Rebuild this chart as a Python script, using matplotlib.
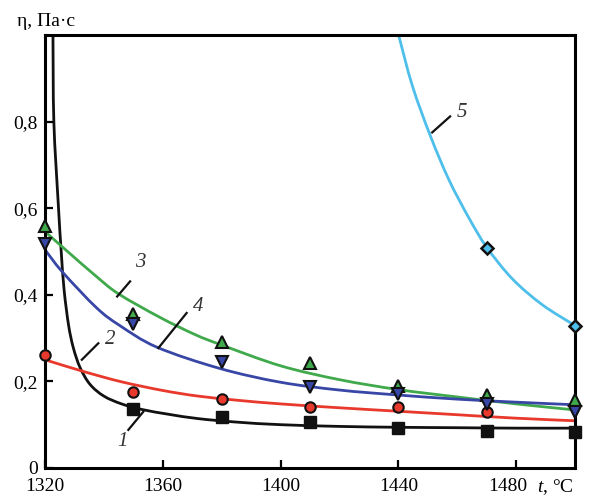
import matplotlib
matplotlib.use("Agg")
import matplotlib.pyplot as plt
import matplotlib.transforms as mtransforms
from matplotlib.path import Path
from matplotlib.patches import PathPatch

plt.rcParams['font.family'] = ['Liberation Serif', 'DejaVu Serif']
plt.rcParams['mathtext.fontset'] = 'custom'
plt.rcParams['mathtext.it'] = 'Liberation Serif:italic'
plt.rcParams['mathtext.rm'] = 'Liberation Serif'

# measured points
t_pts = [1320, 1350, 1380, 1410, 1440, 1470, 1500]
eta1 = [None, 0.136, 0.117, 0.107, 0.093, 0.086, 0.084]
eta2 = [0.260, 0.176, 0.159, 0.140, 0.140, 0.130, None]
eta3 = [0.560, 0.356, 0.290, 0.243, 0.190, 0.169, 0.156]
eta4 = [0.518, 0.333, 0.244, 0.187, 0.170, 0.148, 0.130]
t5_pts = [1470, 1500]
eta5 = [0.507, 0.329]

# fitted curves
c1_t = [1322.7, 1323.0, 1324.5, 1325.5, 1326.5, 1328.0, 1329.6, 1331.9, 1335.3, 1340,
        1346, 1353, 1362, 1372, 1385, 1400, 1420, 1440, 1460, 1480, 1500]
c1_y = [1.00, 0.80, 0.61, 0.50, 0.41, 0.33, 0.278, 0.232, 0.193, 0.166,
        0.148, 0.135, 0.124, 0.114, 0.106, 0.100, 0.096, 0.094, 0.093, 0.092, 0.092]
c2_t = [1320, 1333, 1346, 1360, 1372, 1386, 1400, 1420, 1440, 1460, 1480, 1500]
c2_y = [0.250, 0.223, 0.199, 0.179, 0.166, 0.156, 0.148, 0.139, 0.131, 0.123, 0.115, 0.109]
c3_t = [1320, 1328, 1337.5, 1345, 1359, 1371, 1380, 1400, 1420, 1440, 1460, 1480, 1500]
c3_y = [0.546, 0.498, 0.442, 0.402, 0.348, 0.308, 0.284, 0.236, 0.204, 0.181, 0.164, 0.148, 0.134]
c4_t = [1320, 1326, 1337.5, 1345.4, 1358, 1379.3, 1400, 1420, 1439, 1460, 1480, 1500]
c4_y = [0.504, 0.452, 0.370, 0.329, 0.279, 0.230, 0.198, 0.180, 0.169, 0.159, 0.152, 0.146]
c5_t = [1440.1, 1444.8, 1451, 1457.3, 1464.1, 1470, 1478.7, 1488.9, 1500]
c5_y = [1.00, 0.882, 0.765, 0.664, 0.576, 0.510, 0.437, 0.377, 0.329]

# curve numbers: leader line start/end, text position
labels = ['1', '2', '3', '4', '5']
lead_t = [(1353.4, 1348.3), (1332.5, 1338.1), (1344.5, 1348.9), (1358.5, 1368.1), (1451.5, 1457.6)]
lead_y = [(0.130, 0.088), (0.250, 0.288), (0.396, 0.431), (0.277, 0.358), (0.775, 0.812)]
text_t = [1346.2, 1342.0, 1352.3, 1372.1, 1461.6]
text_y = [0.061, 0.296, 0.474, 0.373, 0.821]

black = '#111111'
red = '#e8392c'
green = '#3fa94b'
blue = '#3846a6'
cyan = '#4dbfea'


def smooth_line(ax, xs, ys, color, lw):
    # catmull-rom through the read points, drawn as bezier segments
    pts = list(zip(xs, ys))
    verts = [pts[0]]
    codes = [Path.MOVETO]
    n = len(pts)
    for i in range(n - 1):
        p0 = pts[max(i - 1, 0)]
        p1 = pts[i]
        p2 = pts[i + 1]
        p3 = pts[min(i + 2, n - 1)]
        c1 = (p1[0] + (p2[0] - p0[0]) / 6, p1[1] + (p2[1] - p0[1]) / 6)
        c2 = (p2[0] - (p3[0] - p1[0]) / 6, p2[1] - (p3[1] - p1[1]) / 6)
        verts += [c1, c2, p2]
        codes += [Path.CURVE4] * 3
    ax.add_patch(PathPatch(Path(verts, codes), fill=False, edgecolor=color, lw=lw,
                           capstyle='round', joinstyle='round'))


fig = plt.figure(figsize=(5.97, 4.96), dpi=100)
ax = fig.add_axes([0.0754, 0.0565, 0.8877, 0.8729])

lw = 2.0
smooth_line(ax, c1_t, c1_y, black, lw)
smooth_line(ax, c2_t, c2_y, red, lw)
smooth_line(ax, c3_t, c3_y, green, lw)
smooth_line(ax, c4_t, c4_y, blue, lw)
smooth_line(ax, c5_t, c5_y, cyan, lw)


def pts(ts, ys):
    xs = [t for t, y in zip(ts, ys) if y is not None]
    vs = [y for y in ys if y is not None]
    return xs, vs

x, y = pts(t_pts, eta1)
ax.plot(x, y, 's', ms=8, color=black, mec=black, clip_on=False, zorder=5)
x, y = pts(t_pts, eta2)
ax.plot(x, y, 'o', ms=7.5, color=red, mec=black, mew=1.5, clip_on=False, zorder=5)
ax.plot(t_pts, eta3, '^', ms=8.5, color=green, mec=black, mew=1.5, clip_on=False, zorder=5)
ax.plot(t_pts, eta4, 'v', ms=8.5, color=blue, mec=black, mew=1.5, clip_on=False, zorder=5)
ax.plot(t5_pts, eta5, 'D', ms=6.5, color=cyan, mec=black, mew=1.8, clip_on=False, zorder=5)

for lab, lt, ly, tx, ty in zip(labels, lead_t, lead_y, text_t, text_y):
    ax.plot(lt, ly, color=black, lw=1.6, zorder=6)
    ax.text(tx, ty, lab, fontsize=15, style='italic', ha='center', va='center', color='#333333')

ax.set_xlim(1320, 1500)
ax.set_ylim(0, 1.0)
ax.set_xticks([1320, 1360, 1400, 1440, 1480])
ax.set_xticklabels(['1320', '1360', '1400', '1440', '1480'])
ax.set_yticks([0, 0.2, 0.4, 0.6, 0.8])
ax.set_yticklabels(['0', '0,2', '0,4', '0,6', '0,8'])
ax.tick_params(axis='x', direction='in', length=6, width=1.6, pad=7, labelsize=14)
ax.tick_params(axis='y', direction='in', length=6, width=1.6, pad=5, labelsize=14)
for s in ax.spines.values():
    s.set_linewidth(2.2)

# 1480 sits a little left of its tick to leave room for the unit
lab1480 = ax.get_xticklabels()[-1]
lab1480.set_transform(lab1480.get_transform() +
                      mtransforms.ScaledTranslation(-6 / 72, 0, fig.dpi_scale_trans))

fig.text(0.028, 0.956, 'η, Па·с', fontsize=14, ha='left', va='center')
fig.text(0.9, 0.018, r'$t$, °C', fontsize=14, ha='left', va='center')

fig.savefig('out.png', dpi=100)
